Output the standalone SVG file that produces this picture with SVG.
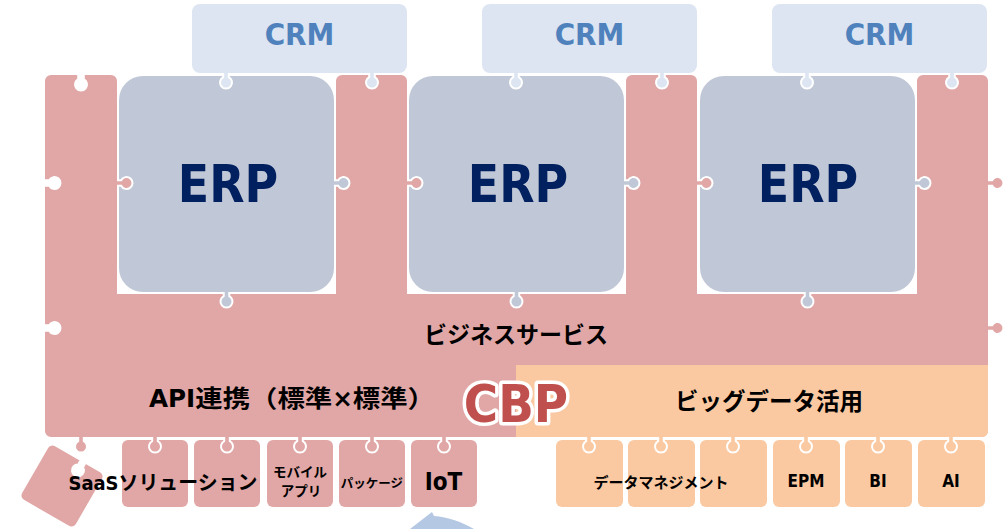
<svg xmlns="http://www.w3.org/2000/svg" xmlns:xlink="http://www.w3.org/1999/xlink" width="1008" height="529" viewBox="0 0 1008 529">
  <style>
    .pink { fill: #E0A7A6; }
    .orange { fill: #FAC9A1; }
    .erp { fill: #C0C7D6; }
    .crm { fill: #DCE5F1; }
    .hole { fill: #FFFFFF; }
    .lat { font-family: "DejaVu Sans Condensed", "DejaVu Sans", "Noto Sans CJK JP", sans-serif; font-stretch: condensed; font-weight: bold; text-anchor: middle; }
    .jp { font-family: "Noto Sans CJK JP", "DejaVu Sans", sans-serif; font-weight: bold; text-anchor: middle; fill: #000; }
    .crmt { font-size: 31px; fill: #4F81BD; }
    .erpt { font-size: 51px; fill: #002060; }
    .blk { fill: #000; }
  </style>
  <defs>
    <!-- puzzle tab pointing +y from an edge at y=0; fill is inherited from the <use> -->
    <g id="tab">
      <path d="M-2.8,-3 V4.19 A6 6 0 1 0 2.8,4.19 V-3 Z"/>
      <path d="M-2.8,0 V4.19 A6 6 0 1 0 2.8,4.19 V0" fill="none" stroke="#FFFFFF" stroke-width="2"/>
    </g>
  </defs>

  <rect width="1008" height="529" fill="#FFFFFF"/>

  <!-- CBP base: four columns joined by the business services band -->
  <g id="base">
    <path class="pink" d="M45,81 A6 6 0 0 1 51,75 H111 A6 6 0 0 1 117,81 V294 H336 V81 A6 6 0 0 1 342,75 H401 A6 6 0 0 1 407,81 V294 H626 V81 A6 6 0 0 1 632,75 H691 A6 6 0 0 1 697,81 V294 H917 V81 A6 6 0 0 1 923,75 H982 A6 6 0 0 1 988,81 V431 A6 6 0 0 1 982,437 H51 A6 6 0 0 1 45,431 Z"/>
    <path class="orange" d="M516,365 H988 V431 A6 6 0 0 1 982,437 H516 Z"/>
    <!-- notches on the left edge and the first column top -->
    <use xlink:href="#tab" class="hole" transform="translate(45,183) rotate(-90)"/>
    <use xlink:href="#tab" class="hole" transform="translate(45,328) rotate(-90)"/>
    <use xlink:href="#tab" class="hole" transform="translate(81,75)"/>
    <!-- tabs on the right edge -->
    <use xlink:href="#tab" class="pink" transform="translate(988,183) rotate(-90)"/>
    <use xlink:href="#tab" class="pink" transform="translate(988,328) rotate(-90)"/>
  </g>

  <!-- ERP pieces -->
  <g id="erp1">
    <rect class="erp" x="119" y="76" width="215" height="216" rx="24"/>
    <use xlink:href="#tab" class="pink" transform="translate(117,183) rotate(-90)"/>
    <use xlink:href="#tab" class="erp" transform="translate(334,183) rotate(-90)"/>
    <use xlink:href="#tab" class="erp" transform="translate(226.5,292)"/>
    <text class="lat erpt" x="228" y="202">ERP</text>
  </g>
  <g id="erp2">
    <rect class="erp" x="409" y="76" width="215" height="216" rx="24"/>
    <use xlink:href="#tab" class="pink" transform="translate(407,183) rotate(-90)"/>
    <use xlink:href="#tab" class="erp" transform="translate(624,183) rotate(-90)"/>
    <use xlink:href="#tab" class="erp" transform="translate(516.5,292)"/>
    <text class="lat erpt" x="518" y="202">ERP</text>
  </g>
  <g id="erp3">
    <rect class="erp" x="700" y="76" width="215" height="216" rx="24"/>
    <use xlink:href="#tab" class="pink" transform="translate(697,183) rotate(-90)"/>
    <use xlink:href="#tab" class="erp" transform="translate(915,183) rotate(-90)"/>
    <use xlink:href="#tab" class="erp" transform="translate(807.5,292)"/>
    <text class="lat erpt" x="808" y="202">ERP</text>
  </g>

  <!-- CRM pieces -->
  <g id="crm1">
    <rect class="crm" x="192" y="4" width="215" height="69" rx="8"/>
    <use xlink:href="#tab" class="crm" transform="translate(226,73)"/>
    <use xlink:href="#tab" class="crm" transform="translate(372,73)"/>
    <text class="lat crmt" x="299.5" y="45">CRM</text>
  </g>
  <g id="crm2">
    <rect class="crm" x="482" y="4" width="215" height="69" rx="8"/>
    <use xlink:href="#tab" class="crm" transform="translate(516,73)"/>
    <use xlink:href="#tab" class="crm" transform="translate(662,73)"/>
    <text class="lat crmt" x="589.5" y="45">CRM</text>
  </g>
  <g id="crm3">
    <rect class="crm" x="772" y="4" width="215" height="69" rx="8"/>
    <use xlink:href="#tab" class="crm" transform="translate(807,73)"/>
    <use xlink:href="#tab" class="crm" transform="translate(952,73)"/>
    <text class="lat crmt" x="879.5" y="45">CRM</text>
  </g>

  <!-- band labels -->
  <g id="business-services">
    <text class="jp" x="516" y="343" font-size="23">ビジネスサービス</text>
  </g>
  <g id="api">
    <text class="lat blk" x="292" y="407" font-size="24" textLength="286" lengthAdjust="spacingAndGlyphs">API連携（標準×標準）</text>
  </g>
  <g id="bigdata">
    <text class="jp" x="769" y="410" font-size="23.5">ビッグデータ活用</text>
  </g>

  <!-- tilted SaaS piece -->
  <g id="saas-tilted">
    <g transform="translate(62,486) rotate(30)">
      <rect class="pink" x="-31" y="-31" width="62" height="62" rx="5"/>
      <use xlink:href="#tab" class="hole" transform="translate(6,-31)"/>
    </g>
    <use xlink:href="#tab" class="pink" transform="translate(81,437)"/>
  </g>

  <!-- integration pieces -->
  <g id="saas">
    <rect class="pink" x="122" y="440" width="66" height="67" rx="6"/>
    <rect class="pink" x="194" y="440" width="66" height="67" rx="6"/>
    <use xlink:href="#tab" class="pink" transform="translate(155,437)"/>
    <use xlink:href="#tab" class="pink" transform="translate(227,437)"/>
    <text class="lat blk" x="163" y="490" font-size="20" textLength="189" lengthAdjust="spacingAndGlyphs">SaaSソリューション</text>
  </g>
  <g id="mobile">
    <rect class="pink" x="267" y="440" width="66" height="67" rx="6"/>
    <use xlink:href="#tab" class="pink" transform="translate(300,437)"/>
    <text class="jp" x="300" y="477" font-size="13.5">モバイル</text>
    <text class="jp" x="301" y="496" font-size="13.5">アプリ</text>
  </g>
  <g id="package">
    <rect class="pink" x="339" y="440" width="66" height="67" rx="6"/>
    <use xlink:href="#tab" class="pink" transform="translate(372,437)"/>
    <text class="jp" x="372" y="488" font-size="12.5">パッケージ</text>
  </g>
  <g id="iot">
    <rect class="pink" x="411" y="440" width="66" height="67" rx="6"/>
    <use xlink:href="#tab" class="pink" transform="translate(444,437)"/>
    <text class="lat blk" x="443.5" y="490" font-size="24">IoT</text>
  </g>

  <!-- big data pieces -->
  <g id="data-management">
    <rect class="orange" x="556" y="440" width="67" height="67" rx="6"/>
    <rect class="orange" x="628" y="440" width="67" height="67" rx="6"/>
    <rect class="orange" x="700" y="440" width="67" height="67" rx="6"/>
    <use xlink:href="#tab" class="orange" transform="translate(589,437)"/>
    <use xlink:href="#tab" class="orange" transform="translate(661,437)"/>
    <use xlink:href="#tab" class="orange" transform="translate(733,437)"/>
    <text class="jp" x="661" y="488" font-size="15">データマネジメント</text>
  </g>
  <g id="epm">
    <rect class="orange" x="773" y="440" width="67" height="67" rx="6"/>
    <use xlink:href="#tab" class="orange" transform="translate(806,437)"/>
    <text class="lat blk" x="806" y="487" font-size="17">EPM</text>
  </g>
  <g id="bi">
    <rect class="orange" x="845" y="440" width="67" height="67" rx="6"/>
    <use xlink:href="#tab" class="orange" transform="translate(878,437)"/>
    <text class="lat blk" x="878" y="487" font-size="17">BI</text>
  </g>
  <g id="ai">
    <rect class="orange" x="918" y="440" width="67" height="67" rx="6"/>
    <use xlink:href="#tab" class="orange" transform="translate(951,437)"/>
    <text class="lat blk" x="951" y="487" font-size="17">AI</text>
  </g>

  <!-- CBP title -->
  <g id="cbp">
    <text class="lat" x="516" y="422" font-size="52" fill="#C0504D" stroke="#FFFFFF" stroke-width="7" stroke-linejoin="round" paint-order="stroke">CBP</text>
  </g>

  <!-- connectors -->
  <g id="connectors">
    <path d="M410,529 L432,512 L434,516 C448,517 462,522 474,529 Z" fill="#B4C8E4"/>
  </g>
</svg>
